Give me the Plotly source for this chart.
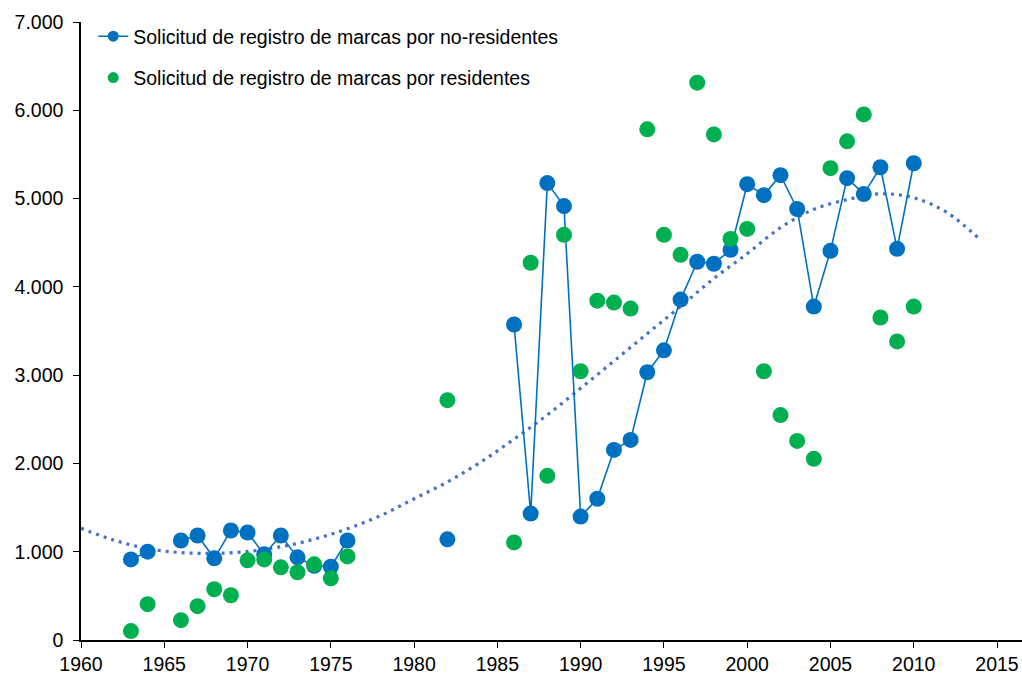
import plotly.graph_objects as go

# Años 1963-2010; None = año sin dato (hueco en la serie)
years = list(range(1963, 2011))

no_residentes = [
    913, 1000, None, 1127, 1184, 925, 1240, 1218, 970, 1184,      # 1963-1972
    936, 840, 830, 1127, None, None, None, None, None, 1140,      # 1973-1982
    None, None, None, 3574, 1432, 5175, 4915, 1398, 1600, 2153,   # 1983-1992
    2266, 3033, 3281, 3856, 4284, 4262, 4419, 5163, 5039, 5265,   # 1993-2002
    4882, 3777, 4408, 5231, 5051, 5355, 4431, 5400,               # 2003-2010
]

residentes = [
    101, 406, None, 225, 383, 575, 507, 902, 913, 823,            # 1963-1972
    767, 857, 699, 947, None, None, None, None, None, 2717,       # 1973-1982
    None, None, None, 1105, 4273, 1860, 4589, 3044, 3844, 3822,   # 1983-1992
    3754, 5784, 4589, 4363, 6313, 5727, 4543, 4656, 3044, 2548,   # 1993-2002
    2255, 2052, 5344, 5648, 5953, 3653, 3382, 3777,               # 2003-2010
]

# Línea de tendencia (polinómica) de la serie de no residentes, 1960-2014
trend_years = list(range(1960, 2015, 2))
trend_values = [
    1266, 1130, 1035, 990, 981, 1003, 1056, 1142, 1260, 1410,
    1600, 1790, 2015, 2275, 2550, 2852, 3160, 3470, 3778, 4095,
    4376, 4671, 4878, 4988, 5054, 5009, 4842, 4532,
]

y_ticks = [0, 1000, 2000, 3000, 4000, 5000, 6000, 7000]
x_ticks = list(range(1960, 2016, 5))

NAME_NR = "Solicitud de registro de marcas por no-residentes"
NAME_R = "Solicitud de registro de marcas por residentes"

BLUE = "#0070C0"
GREEN = "#00B050"
TREND = "#4472C4"
FONT = "Liberation Sans, Arial, Helvetica, sans-serif"

fig = go.Figure()

fig.add_trace(go.Scatter(
    x=trend_years, y=trend_values, mode="lines",
    line=dict(color=TREND, width=3.2, dash="3px,5px", shape="spline", smoothing=1.0),
    showlegend=False, hoverinfo="skip",
))

fig.add_trace(go.Scatter(
    x=years, y=no_residentes, mode="lines+markers", name=NAME_NR,
    line=dict(color=BLUE, width=1.6),
    marker=dict(color=BLUE, size=16, line=dict(width=0)),
    connectgaps=False, showlegend=False,
))

fig.add_trace(go.Scatter(
    x=years, y=residentes, mode="markers", name=NAME_R,
    marker=dict(color=GREEN, size=16, line=dict(width=0)),
    showlegend=False,
))

# Entradas de leyenda con símbolos más pequeños
fig.add_trace(go.Scatter(
    x=[None], y=[None], mode="lines+markers", name=NAME_NR,
    line=dict(color=BLUE, width=1.6),
    marker=dict(color=BLUE, size=11, line=dict(width=0)),
    legendgroup="a", hoverinfo="skip",
))
fig.add_trace(go.Scatter(
    x=[None], y=[None], mode="markers", name=NAME_R,
    marker=dict(color=GREEN, size=11, line=dict(width=0)),
    legendgroup="b", hoverinfo="skip",
))

axis_common = dict(
    showgrid=False, zeroline=False, showline=True,
    linecolor="black", linewidth=1.5,
    ticks="outside", ticklen=6, tickwidth=1.2, tickcolor="black",
    tickfont=dict(family=FONT, size=19.5, color="black"),
)

fig.update_layout(
    width=1022, height=675,
    margin=dict(l=81, r=0, t=22, b=32),
    paper_bgcolor="white", plot_bgcolor="white",
    separators=",.",
    font=dict(family=FONT, size=19.5, color="black"),
    xaxis=dict(range=[1960, 2016.5], tickvals=x_ticks, **axis_common),
    yaxis=dict(range=[0, 7000], tickvals=y_ticks, tickformat=",.0f",
               ticklabelstandoff=6, **axis_common),
    legend=dict(
        x=0.013, y=1.008, xanchor="left", yanchor="top",
        bgcolor="rgba(0,0,0,0)", font=dict(family=FONT, size=19.5, color="black"),
        traceorder="grouped", tracegroupgap=13,
    ),
    showlegend=True,
)

fig.write_html("out.html")
